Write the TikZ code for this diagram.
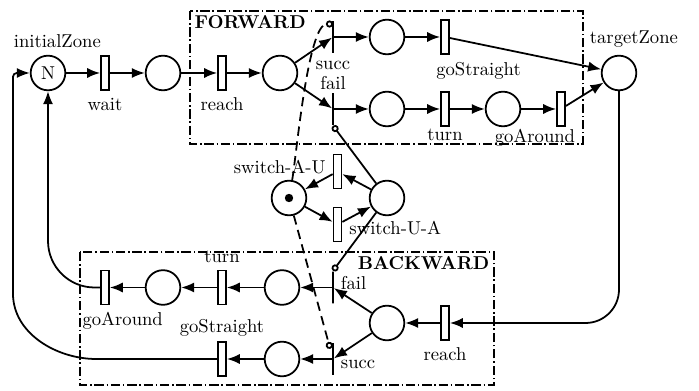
\documentclass[tikz,border=0pt]{standalone}
\usetikzlibrary{arrows.meta,calc}
\begin{document}
\begin{tikzpicture}[
  x=0.537pt, y=-0.537pt,
  line width=0.95pt,
  >={Latex[length=7pt,width=5.5pt]},
  place/.style={circle, draw, minimum size=18.6pt, inner sep=0pt},
  trans/.style={rectangle, draw, fill=white, minimum width=4.3pt, minimum height=18.3pt, inner sep=0pt},
  bar/.style={rectangle, draw, minimum width=0pt, minimum height=17pt, inner sep=0pt},
  tok/.style={circle, fill, minimum size=4.5pt, inner sep=0pt},
  zone/.style={draw, dash pattern=on 5pt off 1.5pt on 0.8pt off 1.5pt},
  readarc/.style={dash pattern=on 5pt off 3pt, -{Circle[open,length=3.8pt]}},
  inhib/.style={-{Circle[open,length=3.8pt]}}
]
\useasboundingbox (0,0) rectangle (699,391);

% boxes
\coordinate (fwdNW) at (190,11);
\coordinate (fwdSE) at (583,144);
\coordinate (bwdNW) at (80,252);
\coordinate (bwdSE) at (494,385);
\draw[zone] (fwdNW) rectangle (fwdSE);
\draw[zone] (bwdNW) rectangle (bwdSE);
\node[anchor=north west, inner sep=2pt, font=\bfseries] (fwdName) at (fwdNW) {FORWARD};
\node[anchor=north east, inner sep=2pt, font=\bfseries] (bwdName) at (bwdSE |- bwdNW) {BACKWARD};

% forward net
\node[place, label={[xshift=5pt]above:initialZone}] (initZ) at (48,73) {N};
\node[trans, label=below:wait] (wait) at (105,73) {};
\node[place] (pWait) at (163,73) {};
\node[trans, label=below:reach] (reachF) at (222,73) {};
\node[place] (pReachF) at (280,73) {};
\node[bar, label=below:succ] (succF) at (333,37) {};
\node[bar, label={[yshift=-2.5pt]above:fail}] (failF) at (333,109) {};
\node[place] (pSuccF) at (387,37) {};
\node[place] (pFailF) at (387,109) {};
\node[trans, label={[xshift=18pt]below:goStraight}] (straightF) at (445,37) {};
\node[trans, label={[yshift=2.5pt]below:turn}] (turnF) at (445,109) {};
\node[place] (pTurnF) at (503,109) {};
\node[trans, label={[xshift=-14pt, yshift=2.5pt]below:goAround}] (aroundF) at (561,109) {};
\node[place, label={[xshift=8pt]above:targetZone}] (targetZ) at (619,73) {};

% switch
\node[place] (modeA) at (289,198) {};
\node[tok] (tokA) at (modeA) {};
\node[place] (modeU) at (387,198) {};
\node[trans, label={[anchor=north east]north west:switch-A-U}] (swAU) at (337.5,171.5) {};
\node[trans, label={[anchor=south west]south east:switch-U-A}] (swUA) at (337.5,224.5) {};

% backward net
\node[trans, label=below:reach] (reachB) at (445,323) {};
\node[place] (pReachB) at (387,323) {};
\node[bar, label={[yshift=2.5pt]right:fail}] (failB) at (333,287.5) {};
\node[bar, label={[anchor=south west]south east:succ}] (succB) at (333,359) {};
\node[place] (pFailB) at (282,287.5) {};
\node[place] (pSuccB) at (282,359) {};
\node[trans, label=above:turn] (turnB) at (222,287.5) {};
\node[place] (pTurnB) at (163,287.5) {};
\node[trans, label={[xshift=9.5pt]below:goAround}] (aroundB) at (105,287.5) {};
\node[trans, label={[yshift=-1pt]above:goStraight}] (straightB) at (222,359) {};
\coordinate (loopS) at (100,359);
\coordinate (loopB) at (13,290);
\coordinate (loopL) at (13,73);

% arcs
\draw[->] (initZ) -- (wait);
\draw[->] (wait) -- (pWait);
\draw[->] (pWait) -- (reachF);
\draw[->] (reachF) -- (pReachF);
\draw[->] (pReachF) -- (succF);
\draw[->] (pReachF) -- (failF);
\draw[->] (succF) -- (pSuccF);
\draw[->] (failF) -- (pFailF);
\draw[->] (pSuccF) -- (straightF);
\draw[->] (straightF) -- (targetZ);
\draw[->] (pFailF) -- (turnF);
\draw[->] (turnF) -- (pTurnF);
\draw[->] (pTurnF) -- (aroundF);
\draw[->] (aroundF) -- (targetZ);

\draw[->] (modeA) -- (swUA);
\draw[->] (swUA) -- (modeU);
\draw[->] (modeU) -- (swAU);
\draw[->] (swAU) -- (modeA);
\draw[readarc] (modeA) to[out=80, in=180, looseness=0.4] ($(succF.north)+(0,-2pt)$);
\draw[readarc] (modeA) -- ($(succB.north)+(-1.5pt,-3.5pt)$);
\draw[inhib] (modeU) -- (failF.south);
\draw[inhib] (modeU) -- (failB.north);

\draw[->, rounded corners=18pt] (targetZ) |- (reachB);
\draw[->] (reachB) -- (pReachB);
\draw[->] (pReachB) -- (failB);
\draw[->] (pReachB) -- (succB);
\draw[->] (failB) -- (pFailB);
\draw[->] (succB) -- (pSuccB);
\draw[->] (pFailB) -- (turnB);
\draw[->] (turnB) -- (pTurnB);
\draw[->] (pTurnB) -- (aroundB);
\draw[->] (pSuccB) -- (straightB);
\draw[->, rounded corners=25pt] (aroundB) -| (initZ);
\draw[->, rounded corners=2pt] (straightB) -- (loopS) to[out=180, in=-90] (loopB) -- (loopL) -- (initZ);
\end{tikzpicture}
\end{document}
